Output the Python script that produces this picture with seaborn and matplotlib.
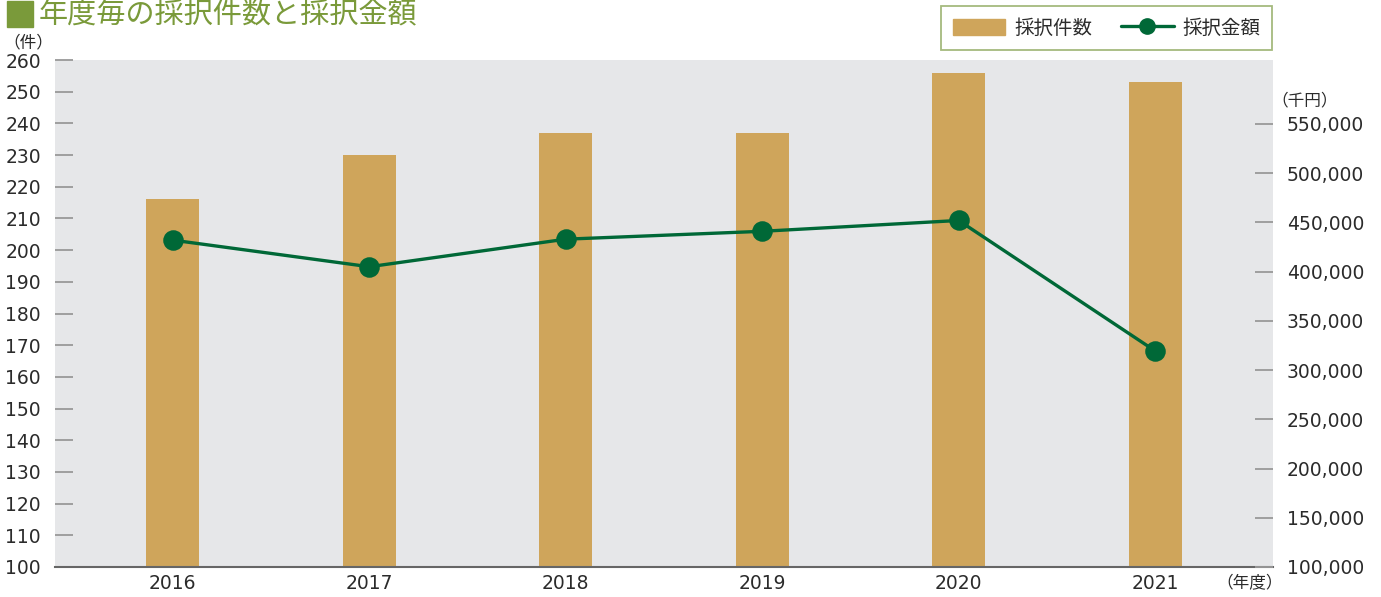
import seaborn as sns
from matplotlib import pyplot as plt
from matplotlib.patches import Rectangle
from matplotlib.lines import Line2D
import pandas as pd

# data
years = ['2016', '2017', '2018', '2019', '2020', '2021']
counts = [216, 230, 237, 237, 256, 253]            # 採択件数 (件)
amounts = [432000, 405000, 433000, 441000, 452000, 319500]  # 採択金額 (千円)
left_ticks = list(range(100, 261, 10))
right_ticks = [100000, 150000, 200000, 250000, 300000, 350000, 400000, 450000, 500000, 550000]

bar_color = '#CFA55B'
line_color = '#006837'
bg = '#E6E7E9'
txt = '#2B2B2B'
jp = ['Noto Sans CJK JP', 'DejaVu Sans']

sns.set_style('white')
plt.rcParams['font.family'] = ['DejaVu Sans', 'Noto Sans CJK JP']

W, H = 1381, 597
fig = plt.figure(figsize=(W / 100, H / 100), dpi=100)
ax = fig.add_axes([55 / W, 30 / H, (1273 - 55) / W, (567 - 60) / H])
ax.set_facecolor(bg)

df = pd.DataFrame({'year': years, 'count': counts, 'amount': amounts})

sns.barplot(data=df, x='year', y='count', color=bar_color, width=0.27,
            saturation=1, linewidth=0, edgecolor='none', ax=ax)
ax.set_ylim(100, 260)
ax.set_yticks(left_ticks)
ax.set_yticklabels([str(t) for t in left_ticks])
ax.set_xlabel('')
ax.set_ylabel('')

ax2 = ax.twinx()
sns.pointplot(data=df, x='year', y='amount', color=line_color, markers='o',
              markersize=13, linewidth=2.4, ax=ax2)
ax2.set_ylim(100000, 615000)
ax2.set_yticks(right_ticks)
ax2.set_yticklabels([f'{t:,}' for t in right_ticks])
ax2.set_ylabel('')
ax2.set_xlabel('')
ax.set_xlim(-0.6, 5.6)
ax2.set_xlim(-0.6, 5.6)

for a in (ax, ax2):
    for s in ['top', 'left', 'right', 'bottom']:
        a.spines[s].set_visible(False)
ax.spines['bottom'].set_visible(True)
ax.spines['bottom'].set_color('#666666')
ax.spines['bottom'].set_linewidth(1.5)

ax.tick_params(axis='y', direction='in', length=13, width=1.3, color='#999999',
               labelsize=13.5, labelcolor=txt, pad=10)
ax2.tick_params(axis='y', direction='in', length=13, width=1.3, color='#999999',
                labelsize=13.5, labelcolor=txt, pad=10)
ax.tick_params(axis='x', length=0, labelsize=13.5, labelcolor=txt, pad=5)
ax2.tick_params(axis='x', length=0)

# unit labels
fig.text(28 / W, 1 - 43 / H, '（件）', fontsize=12, color=txt, ha='center',
         va='center', family=jp)
fig.text(1305 / W, 1 - 101 / H, '（千円）', fontsize=12, color=txt, ha='center',
         va='center', family=jp)
fig.text(1250 / W, 1 - 584 / H, '（年度）', fontsize=12, color=txt, ha='center',
         va='center', family=jp)

# title
title_color = '#7A9A3A'
fig.patches.append(Rectangle((7 / W, 1 - 27 / H), 26 / W, 26 / H,
                             transform=fig.transFigure, color=title_color))
fig.text(39 / W, 1 - 30 / H, '年度毎の採択件数と採択金額', fontsize=21,
         color=title_color, ha='left', va='bottom', family=jp)

# legend
handles = [Rectangle((0, 0), 1, 1, color=bar_color),
           Line2D([], [], color=line_color, lw=2.4, marker='o', markersize=11)]
leg = fig.legend(handles, ['採択件数', '採択金額'], loc='upper right',
                 bbox_to_anchor=(1272 / W, 1 - 6 / H), ncol=2, frameon=True,
                 fancybox=False, prop={'family': jp, 'size': 14},
                 handlelength=2.7, handleheight=0.85, columnspacing=1.5,
                 handletextpad=0.45, borderpad=0.6, borderaxespad=0)
leg.get_frame().set_edgecolor('#8FA85E')
leg.get_frame().set_linewidth(1.3)
for t in leg.get_texts():
    t.set_color(txt)

fig.savefig('out.png', dpi=100)
